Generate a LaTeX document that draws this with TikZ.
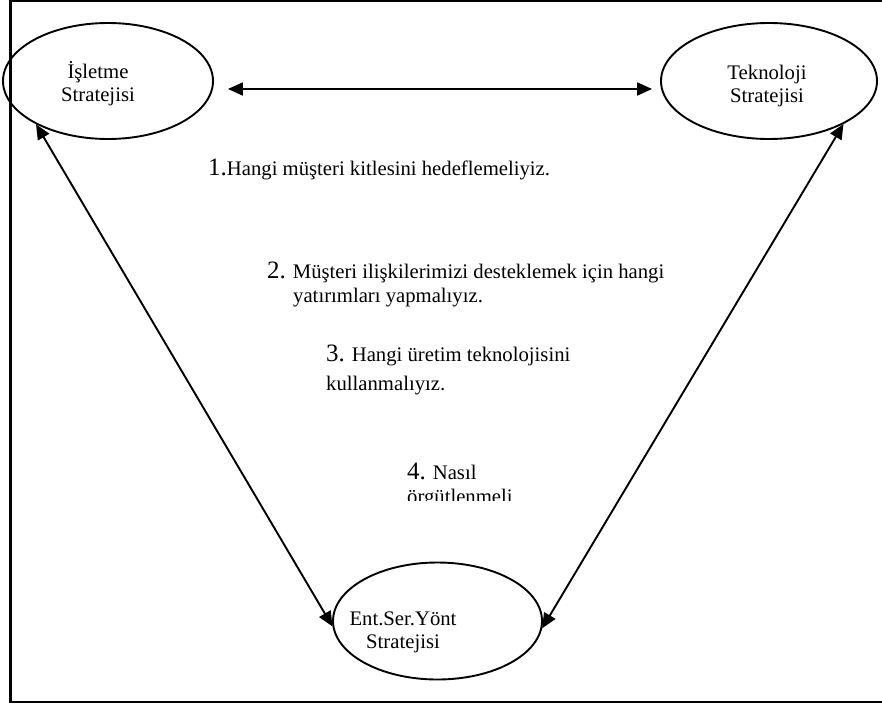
\documentclass[tikz,border=0pt]{standalone}
\usepackage{fontspec}
\setmainfont{Liberation Serif}
\usetikzlibrary{shapes.geometric,arrows.meta}
\newcommand\numsz[1]{{\fontsize{25}{25}\selectfont #1}}
\tikzset{
  strat/.style={ellipse, draw, line width=1.9pt, inner sep=0pt},
  lbl/.style={align=center, inner sep=0pt, font=\fontsize{20.7}{23}\selectfont},
  qline/.style={anchor=base west, inner sep=0pt, font=\fontsize{20.7}{24}\selectfont},
  link/.style={line width=1.9pt, {Triangle[length=15pt,width=13pt]}-{Triangle[length=15pt,width=13pt]}},
  frame/.style={line width=2.4pt}
}
\begin{document}
\begin{tikzpicture}[x=1pt,y=-1pt]
\useasboundingbox (0,0) rectangle (882,706);

% outer frame (open on the right)
\draw[frame] (882,1) -- (10.5,1) -- (10.5,702) -- (882,702);

% strategy ellipses
\node[strat, minimum width=210pt, minimum height=116pt] (isl) at (108,81) {};
\node[strat, minimum width=216pt, minimum height=116pt] (tec) at (769,81) {};
\node[strat, minimum width=209pt, minimum height=117pt] (ent) at (437.5,621) {};

\node[lbl] (islt) at (98,84) {İşletme\\Stratejisi};
\node[lbl] (tect) at (767,86.5) {Teknoloji\\Stratejisi};
\node[lbl] (entt) at (403,632) {Ent.Ser.Yönt\\Stratejisi};

% relations
\draw[link] ([xshift=14pt,yshift=-8pt]isl.east) -- ([xshift=-8pt,yshift=-8pt]tec.west);
\draw[link] (isl.211) -- (ent.183);
\draw[link] (tec.330) -- (ent.356);

% questions
\node[qline] (q1) at (208,175) {\numsz{1.}Hangi müşteri kitlesini hedeflemeliyiz.};
\node[qline] (q2a) at (267,278) {\numsz{2.} Müşteri ilişkilerimizi desteklemek için hangi};
\node[qline] (q2b) at (293,302) {yatırımları yapmalıyız.};
\node[qline] (q3a) at (326,361) {\numsz{3.} Hangi üretim teknolojisini};
\node[qline] (q3b) at (326,390) {kullanmalıyız.};
\node[qline] (q4a) at (407,479) {\numsz{4.} Nasıl};
\begin{scope}
  \clip (380,480) rectangle (560,500);
  \node[qline] (q4b) at (407,503) {örgütlenmeli};
\end{scope}
\end{tikzpicture}
\end{document}
